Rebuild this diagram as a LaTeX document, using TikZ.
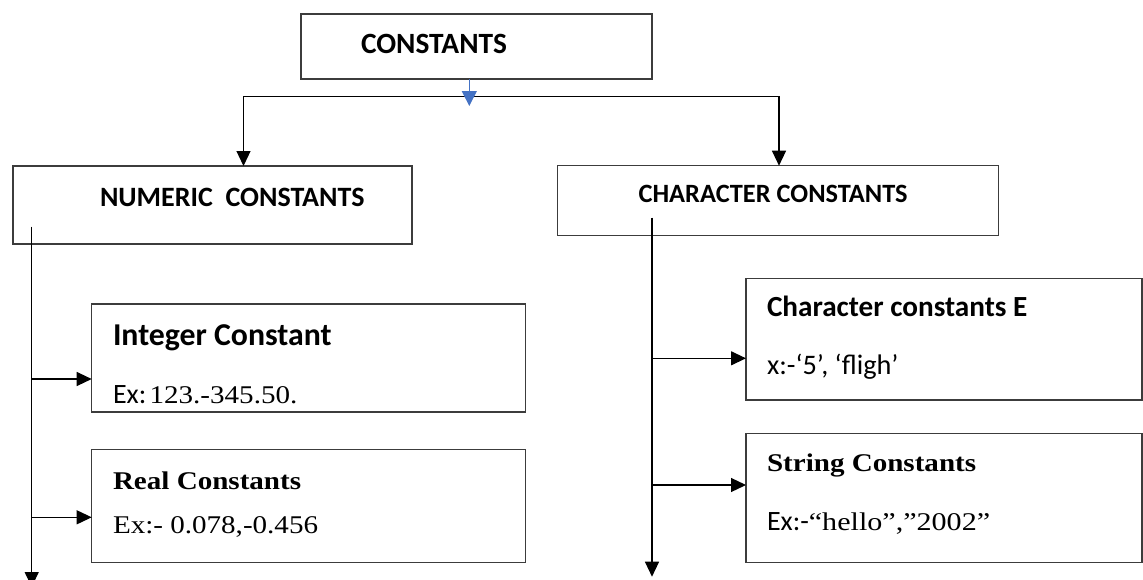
\documentclass[tikz,border=0pt]{standalone}
\usepackage{fontspec}
\setmainfont{Liberation Serif}
\newfontfamily\calfont{Carlito}
\usetikzlibrary{arrows.meta}
\definecolor{arrblue}{RGB}{68,114,196}
\definecolor{boxgray}{RGB}{60,60,60}
\newcommand{\tmsx}[1]{\scalebox{1.14}[1]{#1}}
\begin{document}
\begin{tikzpicture}[x=1pt,y=-1pt,
  box/.style={draw=boxgray, line width=1.4pt, anchor=north west, inner sep=0pt, outer sep=0pt},
  conn/.style={line width=1.2pt, -{Triangle[length=15pt,width=14pt]}},
  blueconn/.style={draw=arrblue, line width=1pt, -{Triangle[length=15pt,width=15pt]}, arrblue},
  txt/.style={anchor=base west, inner sep=0pt, outer sep=0pt},
  hd/.style={txt, font=\calfont\bfseries\fontsize{28}{30}\selectfont},
  subhd/.style={txt, font=\calfont\bfseries\fontsize{30}{32}\selectfont},
  tmsb/.style={txt, font=\bfseries\fontsize{25.5}{27}\selectfont},
  tms/.style={txt, font=\fontsize{25.5}{27}\selectfont},
  calr/.style={txt, font=\calfont\fontsize{28.3}{30}\selectfont}
]
\useasboundingbox (0,0) rectangle (1143,579);
\fill[white] (0,0) rectangle (1143,579);

% boxes
\node[box, minimum width=351pt, minimum height=65pt] (top) at (301,14) {};
\node[box, minimum width=399pt, minimum height=78pt] (num) at (13,166) {};
\node[box, minimum width=441pt, minimum height=70pt] (chr) at (557.6,165.7) {};
\node[box, minimum width=434pt, minimum height=108pt] (int) at (91.7,304) {};
\node[box, minimum width=434pt, minimum height=113pt] (real) at (91.7,449.3) {};
\node[box, minimum width=396pt, minimum height=121.7pt] (chc) at (746,278.3) {};
\node[box, minimum width=396pt, minimum height=129.4pt] (str) at (746,433.3) {};

% texts
\node[hd, font=\calfont\bfseries\fontsize{29.4}{31}\selectfont] (t1) at (361,53.3) {CONSTANTS};
\node[hd] (t2) at (100,206) {NUMERIC\ \ CONSTANTS};
\node[hd, font=\calfont\bfseries\fontsize{26.4}{28}\selectfont] (t3) at (638.6,202.7) {CHARACTER CONSTANTS};
\node[subhd, font=\calfont\bfseries\fontsize{31.8}{33}\selectfont] (t4) at (113,345.7) {Integer Constant};
\node[txt] (t5) at (113,403.3) {{\calfont\fontsize{28}{29}\selectfont Ex:} {\fontsize{25.5}{27}\selectfont\tmsx{123.-345.50.}}};
\node[tmsb] (t6) at (113,489.3) {\tmsx{Real Constants}};
\node[tms] (t7) at (113,533.3) {\tmsx{Ex:- 0.078,-0.456}};
\node[subhd, font=\calfont\bfseries\fontsize{29.2}{31}\selectfont] (t8) at (767,316.7) {Character constants E};
\node[calr] (t9) at (767,374.3) {x:-‘5’, ‘fligh’};
\node[tmsb] (t10) at (767,471.7) {\tmsx{String Constants}};
\node[txt] (t11) at (767,530) {{\calfont\fontsize{28}{29}\selectfont Ex:-}{\fontsize{25.5}{27}\selectfont\scalebox{1.18}[1]{“hello”,”2002”}}};

% connectors
\coordinate (barL) at (243.5,96.3);
\coordinate (barR) at (779,96.3);
\draw[line width=1.2pt] (barL) -- (barR);
\draw[conn] (barL) -- (barL |- num.north);
\draw[conn] (barR) -- (barR |- chr.north);
\draw[blueconn] ([xshift=168.3pt]top.south west) -- ++(0,27);

\coordinate (nsp) at (31.7,226.7);
\coordinate (nend) at (31.7,587);
\draw[conn] (nsp) -- (nend);
\draw[conn] (nsp |- 0,379) -- (int.west |- 0,379);
\draw[conn] (nsp |- 0,517.3) -- (real.west |- 0,517.3);

\coordinate (csp) at (652,217.7);
\coordinate (cend) at (652,576.7);
\draw[conn] (csp) -- (cend);
\draw[conn] (csp |- 0,358.3) -- (chc.west |- 0,358.3);
\draw[conn] (csp |- 0,485) -- (str.west |- 0,485);
\end{tikzpicture}
\end{document}
